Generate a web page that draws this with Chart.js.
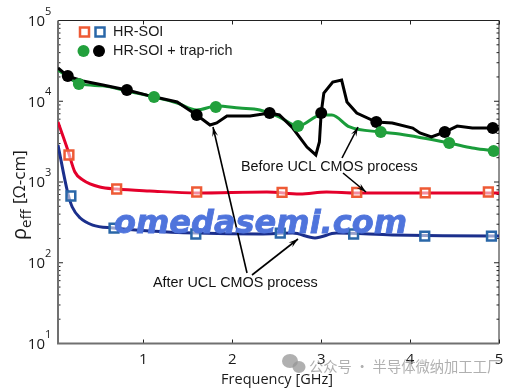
<!DOCTYPE html>
<html>
<head>
<meta charset="utf-8">
<style>
  html, body { margin: 0; padding: 0; background: #fff; }
  canvas { display: block; }
</style>
<script src="https://cdn.jsdelivr.net/npm/chart.js@4/dist/chart.umd.min.js"></script>
</head>
<body>
<canvas id="chart" width="523" height="389"></canvas>
<script>
// Curves
const blackFreq = [0.04, 0.15, 0.32, 0.545, 0.815, 1.04, 1.38, 1.60, 1.75, 1.825, 1.94, 2.2, 2.42, 2.53, 2.68, 2.84, 2.94, 2.98, 3.0, 3.03, 3.13, 3.23, 3.29, 3.40, 3.62, 3.80, 4.03, 4.11, 4.24, 4.39, 4.53, 4.70, 4.93, 5.0];
const blackRho = [25800, 20500, 17800, 15900, 13800, 11900, 9800, 6760, 5080, 5380, 6560, 6560, 7150, 6760, 4660, 2710, 2160, 3130, 7150, 12650, 17300, 18300, 9800, 7150, 5530, 5380, 4660, 4050, 3610, 4160, 4930, 4660, 4660, 4500];

const greenFreq = [0.04, 0.29, 0.545, 0.815, 1.12, 1.38, 1.60, 1.825, 2.08, 2.31, 2.53, 2.74, 3.0, 3.12, 3.32, 3.68, 3.88, 4.44, 4.70, 4.94, 5.0];
const greenRho = [24400, 16400, 15500, 13400, 11300, 9510, 7800, 8730, 8240, 7800, 6380, 4930, 6760, 6760, 4800, 4160, 3930, 3040, 2640, 2420, 2350];

const redFreq = [0.04, 0.15, 0.23, 0.32, 0.51, 0.70, 1.07, 1.60, 2.39, 2.76, 3.06, 3.40, 4.19, 4.93, 5.0];
const redRho = [5530, 2490, 1330, 1060, 867, 819, 774, 731, 752, 710, 752, 731, 731, 731, 731];

const blueFreq = [0.04, 0.15, 0.20, 0.29, 0.43, 0.66, 1.07, 1.60, 2.31, 2.68, 2.93, 3.17, 3.80, 4.93, 5.0];
const blueRho = [2870, 731, 490, 358, 293, 269, 247, 233, 227, 233, 203, 233, 221, 214, 214];

// Markers
const blackMarkFreq = [0.15, 0.815, 1.60, 2.42, 3.0, 3.62, 4.39, 4.93];
const blackMarkRho = [20500, 13800, 6760, 7150, 7150, 5530, 4160, 4660];
const greenMarkFreq = [0.275, 1.12, 1.815, 2.74, 3.67, 4.44, 4.94];
const greenMarkRho = [16400, 11300, 8480, 4930, 4160, 3040, 2420];
const redMarkFreq = [0.163, 0.70, 1.60, 2.56, 3.40, 4.17, 4.88];
const redMarkRho = [2160, 819, 752, 745, 745, 731, 752];
const blueMarkFreq = [0.185, 0.67, 1.59, 2.54, 3.365, 4.165, 4.915];
const blueMarkRho = [671, 269, 227, 233, 227, 214, 214];

// Axis ticks
const freqTicks = [1, 2, 3, 4, 5];
const rhoExponents = [1, 2, 3, 4, 5];
const minorSteps = [2, 3, 4, 5, 6, 7, 8, 9];

const FONT = '"Open Sans", sans-serif';
const LABEL_FONT = '"Liberation Sans", Arial, sans-serif';

function pairs(xs, ys) {
    return xs.map((x, i) => ({ x: x, y: ys[i] }));
}

function lineSet(xs, ys, color, width, order) {
    return {
        data: pairs(xs, ys),
        showLine: true,
        borderColor: color,
        borderWidth: width,
        pointRadius: 0,
        cubicInterpolationMode: "monotone",
        fill: false,
        order: order
    };
}

function squareSet(xs, ys, color) {
    return {
        data: pairs(xs, ys),
        showLine: false,
        pointStyle: "rect",
        pointRadius: 6.2,
        pointBackgroundColor: "rgba(255,255,255,0.55)",
        pointBorderColor: color,
        pointBorderWidth: 2.5,
        order: 1
    };
}

function dotSet(xs, ys, color) {
    return {
        data: pairs(xs, ys),
        showLine: false,
        pointStyle: "circle",
        pointRadius: 6,
        pointBackgroundColor: color,
        pointBorderColor: color,
        pointBorderWidth: 0,
        order: 1
    };
}

function arrow(ctx, x1, y1, x2, y2) {
    const angle = Math.atan2(y2 - y1, x2 - x1);
    ctx.strokeStyle = "#000";
    ctx.fillStyle = "#000";
    ctx.lineWidth = 1.6;
    ctx.beginPath();
    ctx.moveTo(x1, y1);
    ctx.lineTo(x2, y2);
    ctx.stroke();
    ctx.beginPath();
    ctx.moveTo(x2, y2);
    ctx.lineTo(x2 - 10 * Math.cos(angle - 0.3), y2 - 10 * Math.sin(angle - 0.3));
    ctx.lineTo(x2 - 6 * Math.cos(angle), y2 - 6 * Math.sin(angle));
    ctx.lineTo(x2 - 10 * Math.cos(angle + 0.3), y2 - 10 * Math.sin(angle + 0.3));
    ctx.closePath();
    ctx.fill();
}

// Ticks point inward and the exponents are raised, so the frame is drawn here
const framePlugin = {
    id: "frame",
    beforeDatasetsDraw(chart) {
        const ctx = chart.ctx;
        const area = chart.chartArea;
        const xScale = chart.scales.x;
        const yScale = chart.scales.y;
        ctx.save();

        ctx.strokeStyle = "#222";
        ctx.lineWidth = 1;
        ctx.beginPath();
        ctx.moveTo(area.left, area.top);
        ctx.lineTo(area.right, area.top);
        ctx.lineTo(area.right, area.bottom);
        freqTicks.forEach(v => {
            const px = Math.round(xScale.getPixelForValue(v)) + 0.5;
            ctx.moveTo(px, area.top);
            ctx.lineTo(px, area.top + 4);
            ctx.moveTo(px, area.bottom);
            ctx.lineTo(px, area.bottom - 4);
        });
        rhoExponents.forEach(e => {
            const py = yScale.getPixelForValue(Math.pow(10, e));
            if (e > 1 && e < 5) {
                ctx.moveTo(area.left, py);
                ctx.lineTo(area.left + 5, py);
                ctx.moveTo(area.right, py);
                ctx.lineTo(area.right - 5, py);
            }
            if (e < 5) {
                minorSteps.forEach(m => {
                    const my = yScale.getPixelForValue(m * Math.pow(10, e));
                    ctx.moveTo(area.left, my);
                    ctx.lineTo(area.left + 2.5, my);
                    ctx.moveTo(area.right, my);
                    ctx.lineTo(area.right - 2.5, my);
                });
            }
        });
        ctx.stroke();

        ctx.strokeStyle = "#707070";
        ctx.lineWidth = 2;
        ctx.beginPath();
        ctx.moveTo(area.left, area.top);
        ctx.lineTo(area.left, area.bottom);
        ctx.lineTo(area.right, area.bottom);
        ctx.stroke();

        ctx.fillStyle = "#1a1a1a";
        ctx.textBaseline = "middle";
        ctx.textAlign = "center";
        ctx.font = "15px " + FONT;
        freqTicks.forEach(v => {
            ctx.fillText(String(v), xScale.getPixelForValue(v), 360);
        });
        rhoExponents.forEach(e => {
            const py = yScale.getPixelForValue(Math.pow(10, e));
            ctx.textAlign = "right";
            ctx.font = "15px " + FONT;
            ctx.fillText("10", 45, py + 1);
            ctx.textAlign = "left";
            ctx.font = "11px " + FONT;
            ctx.fillText(String(e), 45, py - 9);
        });

        ctx.textAlign = "center";
        ctx.font = "14.5px " + FONT;
        ctx.fillText("Frequency [GHz]", 277, 380);

        ctx.save();
        ctx.translate(23, 188);
        ctx.rotate(-Math.PI / 2);
        ctx.textAlign = "left";
        ctx.font = "20px " + FONT;
        ctx.fillText("ρ", -52, -3);
        ctx.font = "15px " + FONT;
        ctx.fillText("eff", -40, 4);
        ctx.font = "17px " + FONT;
        ctx.fillText("[Ω-cm]", -16, -3);
        ctx.restore();
        ctx.restore();
    },
    afterDatasetsDraw(chart) {
        const ctx = chart.ctx;
        ctx.save();

        // legend
        ctx.lineWidth = 2.5;
        ctx.fillStyle = "#fff";
        ctx.strokeStyle = "#ee5a35";
        ctx.strokeRect(80, 27.5, 9, 9);
        ctx.strokeStyle = "#2a67a8";
        ctx.strokeRect(95.5, 27.5, 9, 9);
        ctx.fillStyle = "#22a03c";
        ctx.beginPath();
        ctx.arc(83.5, 51, 6, 0, Math.PI * 2);
        ctx.fill();
        ctx.fillStyle = "#000";
        ctx.beginPath();
        ctx.arc(99, 51, 6, 0, Math.PI * 2);
        ctx.fill();

        ctx.fillStyle = "#1a1a1a";
        ctx.textAlign = "left";
        ctx.textBaseline = "middle";
        ctx.font = "14.4px " + LABEL_FONT;
        ctx.fillText("HR-SOI", 113, 32);
        ctx.fillText("HR-SOI + trap-rich", 113, 51.5);

        // annotations
        arrow(ctx, 247, 273, 213, 127);
        arrow(ctx, 252, 275, 298, 239);
        arrow(ctx, 342, 158, 358, 127);
        arrow(ctx, 343, 173, 366, 192);
        ctx.fillStyle = "#111";
        ctx.fillText("Before UCL CMOS process", 241, 167);
        ctx.fillText("After UCL CMOS process", 153, 283);

        // watermarks
        ctx.fillStyle = "#4f74dc";
        ctx.strokeStyle = "#4f74dc";
        ctx.lineWidth = 0.8;
        ctx.font = 'italic bold 32px "DejaVu Sans", sans-serif';
        ctx.textBaseline = "alphabetic";
        ctx.fillText("omedasemi.com", 114, 233);
        ctx.strokeText("omedasemi.com", 114, 233);

        ctx.fillStyle = "rgba(150,150,150,0.75)";
        ctx.beginPath();
        ctx.ellipse(290, 361, 8, 7, 0, 0, Math.PI * 2);
        ctx.fill();
        ctx.beginPath();
        ctx.ellipse(299, 367, 6.5, 6, 0, 0, Math.PI * 2);
        ctx.fill();
        ctx.font = '14.3px "Noto Sans CJK SC", sans-serif';
        ctx.textBaseline = "middle";
        ctx.fillText("公众号 · 半导体微纳加工工厂", 309, 367);
        ctx.restore();
    }
};

const blackLine = lineSet(blackFreq, blackRho, "#000000", 3, 2);
blackLine.cubicInterpolationMode = "default";
blackLine.tension = 0;

new Chart(document.getElementById("chart"), {
    type: "scatter",
    data: {
        datasets: [
            blackLine,
            lineSet(greenFreq, greenRho, "#1a9c3a", 3, 3),
            lineSet(redFreq, redRho, "#e4002b", 3, 3),
            lineSet(blueFreq, blueRho, "#1b2f8c", 3, 3),
            squareSet(redMarkFreq, redMarkRho, "#ee5a35"),
            squareSet(blueMarkFreq, blueMarkRho, "#2a67a8"),
            dotSet(greenMarkFreq, greenMarkRho, "#22a03c"),
            dotSet(blackMarkFreq, blackMarkRho, "#000000")
        ]
    },
    options: {
        responsive: false,
        animation: false,
        layout: { padding: { left: 58, right: 24, top: 20.5, bottom: 45.5 } },
        plugins: { legend: { display: false }, tooltip: { enabled: false } },
        scales: {
            x: {
                type: "linear",
                min: 0.04,
                max: 5,
                ticks: { display: false },
                grid: { display: false, drawTicks: false },
                border: { display: false }
            },
            y: {
                type: "logarithmic",
                min: 10,
                max: 100000,
                ticks: { display: false },
                grid: { display: false, drawTicks: false },
                border: { display: false }
            }
        }
    },
    plugins: [framePlugin]
});
</script>
</body>
</html>
